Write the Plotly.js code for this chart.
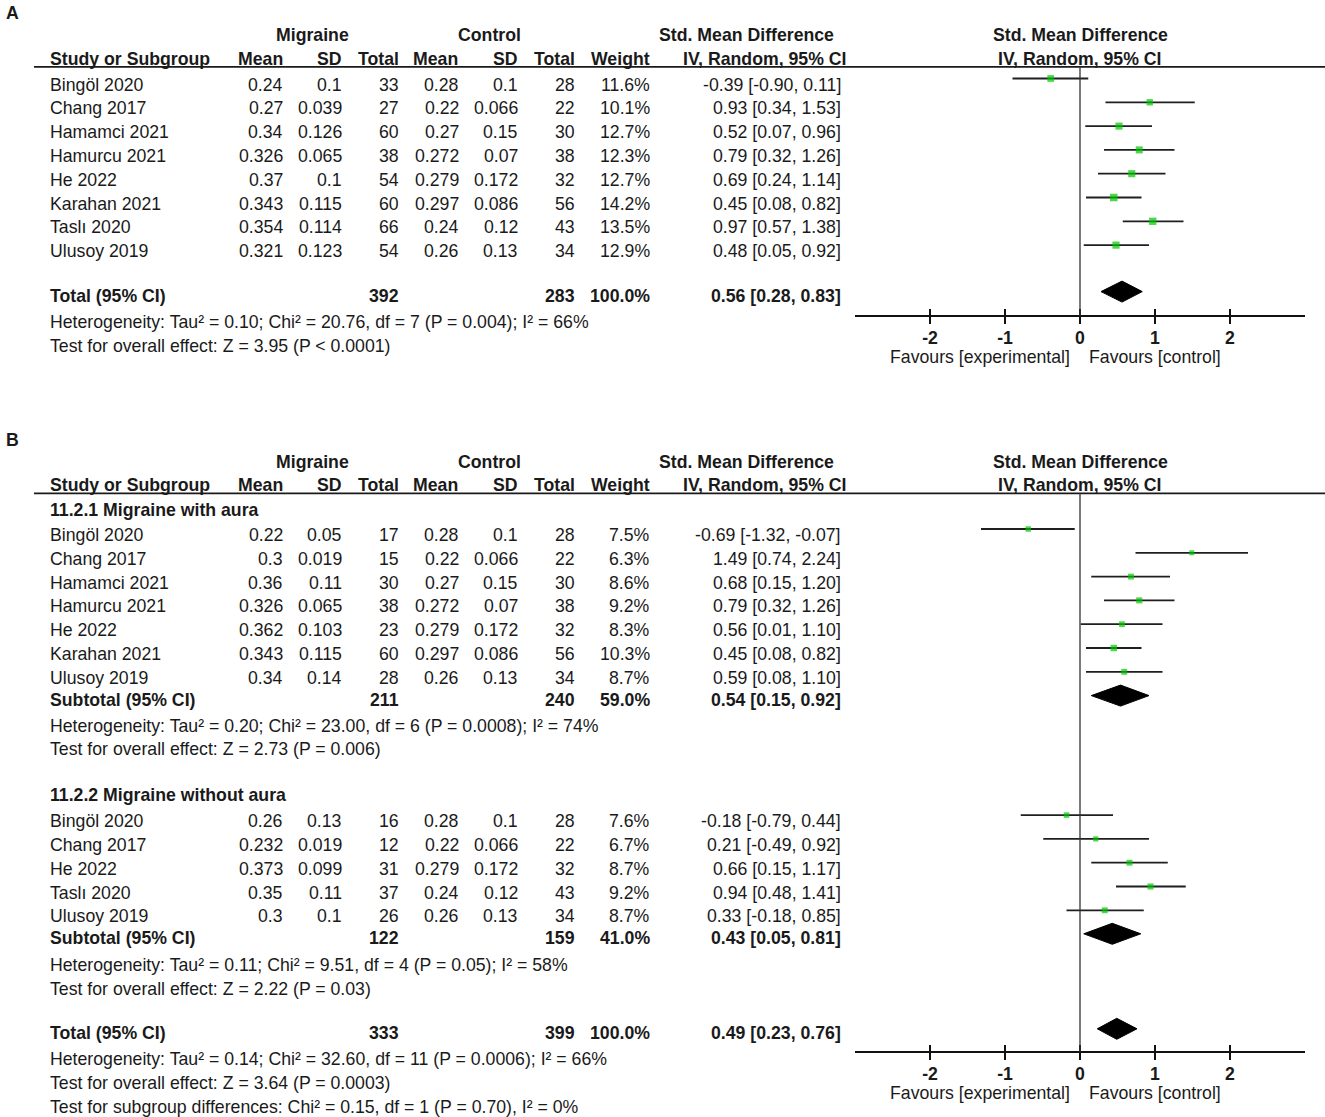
<!DOCTYPE html>
<html><head><meta charset="utf-8">
<script src="https://cdn.plot.ly/plotly-3.0.1.min.js"></script>
<style>html,body{margin:0;padding:0;background:#fff}</style>
</head><body><div id="chart" style="width:1325px;height:1117px"></div>
<script>
// ================= DATA =================
// Panel A
const studiesA  = ['Bingöl 2020','Chang 2017','Hamamci 2021','Hamurcu 2021','He 2022','Karahan 2021','Taslı 2020','Ulusoy 2019'];
const expMeanA  = [0.24, 0.27, 0.34, 0.326, 0.37, 0.343, 0.354, 0.321];
const expSdA    = [0.1, 0.039, 0.126, 0.065, 0.1, 0.115, 0.114, 0.123];
const expNA     = [33, 27, 60, 38, 54, 60, 66, 54];
const ctlMeanA  = [0.28, 0.22, 0.27, 0.272, 0.279, 0.297, 0.24, 0.26];
const ctlSdA    = [0.1, 0.066, 0.15, 0.07, 0.172, 0.086, 0.12, 0.13];
const ctlNA     = [28, 22, 30, 38, 32, 56, 43, 34];
const weightA   = [11.6, 10.1, 12.7, 12.3, 12.7, 14.2, 13.5, 12.9];
const smdA      = [-0.39, 0.93, 0.52, 0.79, 0.69, 0.45, 0.97, 0.48];
const loA       = [-0.90, 0.34, 0.07, 0.32, 0.24, 0.08, 0.57, 0.05];
const hiA       = [0.11, 1.53, 0.96, 1.26, 1.14, 0.82, 1.38, 0.92];
const totalNA   = [392, 283];          // experimental, control
const totalWA   = 100.0;
const totalCIA  = [0.56, 0.28, 0.83];  // est, lo, hi
const hetA      = 'Heterogeneity: Tau² = 0.10; Chi² = 20.76, df = 7 (P = 0.004); I² = 66%';
const testA     = 'Test for overall effect: Z = 3.95 (P < 0.0001)';

// Panel B, subgroup 1 (with aura)
const titleB1   = '11.2.1 Migraine with aura';
const studiesB1 = ['Bingöl 2020','Chang 2017','Hamamci 2021','Hamurcu 2021','He 2022','Karahan 2021','Ulusoy 2019'];
const expMeanB1 = [0.22, 0.3, 0.36, 0.326, 0.362, 0.343, 0.34];
const expSdB1   = [0.05, 0.019, 0.11, 0.065, 0.103, 0.115, 0.14];
const expNB1    = [17, 15, 30, 38, 23, 60, 28];
const ctlMeanB1 = [0.28, 0.22, 0.27, 0.272, 0.279, 0.297, 0.26];
const ctlSdB1   = [0.1, 0.066, 0.15, 0.07, 0.172, 0.086, 0.13];
const ctlNB1    = [28, 22, 30, 38, 32, 56, 34];
const weightB1  = [7.5, 6.3, 8.6, 9.2, 8.3, 10.3, 8.7];
const smdB1     = [-0.69, 1.49, 0.68, 0.79, 0.56, 0.45, 0.59];
const loB1      = [-1.32, 0.74, 0.15, 0.32, 0.01, 0.08, 0.08];
const hiB1      = [-0.07, 2.24, 1.20, 1.26, 1.10, 0.82, 1.10];
const subNB1    = [211, 240];
const subWB1    = 59.0;
const subCIB1   = [0.54, 0.15, 0.92];
const hetB1     = 'Heterogeneity: Tau² = 0.20; Chi² = 23.00, df = 6 (P = 0.0008); I² = 74%';
const testB1    = 'Test for overall effect: Z = 2.73 (P = 0.006)';

// Panel B, subgroup 2 (without aura)
const titleB2   = '11.2.2 Migraine without aura';
const studiesB2 = ['Bingöl 2020','Chang 2017','He 2022','Taslı 2020','Ulusoy 2019'];
const expMeanB2 = [0.26, 0.232, 0.373, 0.35, 0.3];
const expSdB2   = [0.13, 0.019, 0.099, 0.11, 0.1];
const expNB2    = [16, 12, 31, 37, 26];
const ctlMeanB2 = [0.28, 0.22, 0.279, 0.24, 0.26];
const ctlSdB2   = [0.1, 0.066, 0.172, 0.12, 0.13];
const ctlNB2    = [28, 22, 32, 43, 34];
const weightB2  = [7.6, 6.7, 8.7, 9.2, 8.7];
const smdB2     = [-0.18, 0.21, 0.66, 0.94, 0.33];
const loB2      = [-0.79, -0.49, 0.15, 0.48, -0.18];
const hiB2      = [0.44, 0.92, 1.17, 1.41, 0.85];
const subNB2    = [122, 159];
const subWB2    = 41.0;
const subCIB2   = [0.43, 0.05, 0.81];
const hetB2     = 'Heterogeneity: Tau² = 0.11; Chi² = 9.51, df = 4 (P = 0.05); I² = 58%';
const testB2    = 'Test for overall effect: Z = 2.22 (P = 0.03)';

// Panel B overall
const totalNB   = [333, 399];
const totalWB   = 100.0;
const totalCIB  = [0.49, 0.23, 0.76];
const hetB      = 'Heterogeneity: Tau² = 0.14; Chi² = 32.60, df = 11 (P = 0.0006); I² = 66%';
const testB     = 'Test for overall effect: Z = 3.64 (P = 0.0003)';
const subDiffB  = 'Test for subgroup differences: Chi² = 0.15, df = 1 (P = 0.70), I² = 0%';

// Headers & axis labels
const groupHeaders = ['Migraine', 'Control', 'Std. Mean Difference'];
const colHeaders   = ['Mean', 'SD', 'Total', 'Mean', 'SD', 'Total', 'Weight', 'IV, Random, 95% CI'];
const firstHeader  = 'Study or Subgroup';
const plotHeader   = ['Std. Mean Difference', 'IV, Random, 95% CI'];
const tickVals     = [-2, -1, 0, 1, 2];
const tickText     = ['-2', '-1', '0', '1', '2'];
const favours      = ['Favours [experimental]', 'Favours [control]'];
const panelLetters = ['A', 'B'];

// ================= LAYOUT CONSTANTS =================
const W = 1325, H = 1117;
const FONT = 'Liberation Sans, Arial, Helvetica, sans-serif';
const FS = 17.7;
const TXT = '#1a1a1a';
const NAME_X = 49;
const COL_R = [284, 343.5, 399.5, 459.5, 519, 575.5, 650.5, 842];
const HDR_R = [283.5, 343.5, 399.5, 459, 519, 575.5, 650.5, 848.5];
const GROUP_C = [312, 489, 746];
const PITCH = 23.8;
const MARK_DY = -6;      // forest marks sit a bit above text centre
const DIAM_DY = -4.5;
const DIAM_H = 10.5;
const XDOM = [855 / W, 1305 / W];
const XRANGE = [-3, 3];

const annotations = [];
const shapes = [];
const traces = [];

function ann(x, y, text, anchor, bold, xref) {
  annotations.push({
    x: xref ? x : x / W, xref: xref || 'paper', y: y, yref: 'y',
    text: bold ? '<b>' + text + '</b>' : text,
    xanchor: anchor, yanchor: 'middle', showarrow: false, borderpad: 0,
    font: { family: FONT, size: FS, color: TXT }
  });
}
const f2 = v => v.toFixed(2);
const ciText = (e, l, h) => f2(e) + ' [' + f2(l) + ', ' + f2(h) + ']';

function header(yTop, letter) {
  ann(5, yTop - 22, letter, 'left', true);
  GROUP_C.forEach((c, i) => ann(c, yTop, groupHeaders[i], 'center', true));
  ann(0, yTop, plotHeader[0], 'center', true, 'x');
  const y2 = yTop + 23.8;
  ann(NAME_X, y2, firstHeader, 'left', true);
  colHeaders.forEach((t, i) => ann(HDR_R[i], y2, t, 'right', true));
  ann(0, y2, plotHeader[1], 'center', true, 'x');
  shapes.push({ type: 'line', xref: 'paper', x0: 34 / W, x1: 1, yref: 'y', y0: y2 + 8, y1: y2 + 8,
                line: { color: '#1a1a1a', width: 1.7 } });
  return y2 + 8;
}

function studyRows(y0, names, em, es, en, cm, cs, cn, w, smd, lo, hi, xa) {
  const ys = names.map((_, i) => y0 + i * PITCH);
  names.forEach((n, i) => {
    const y = ys[i];
    ann(NAME_X, y, n, 'left', false);
    const vals = [String(em[i]), String(es[i]), String(en[i]), String(cm[i]), String(cs[i]), String(cn[i]),
                  w[i].toFixed(1) + '%', ciText(smd[i], lo[i], hi[i])];
    vals.forEach((v, k) => ann(COL_R[k], y, v, 'right', false));
  });
  traces.push({
    type: 'scatter', mode: 'markers', xaxis: xa, yaxis: 'y',
    x: smd, y: ys.map(y => y + MARK_DY),
    marker: { symbol: 'square', color: '#00c800', size: w.map(v => 2.0 * Math.sqrt(v)), line: { width: 0 } },
    error_x: { type: 'data', symmetric: false, array: hi.map((h, i) => h - smd[i]),
               arrayminus: lo.map((l, i) => smd[i] - l), width: 0, thickness: 1.8, color: '#1f1f1f' },
    hoverinfo: 'skip', showlegend: false, cliponaxis: false
  });
  return ys[ys.length - 1];
}

function summaryRow(y, label, ns, wt, ci, xa) {
  ann(NAME_X, y, label, 'left', true);
  ann(COL_R[2], y, String(ns[0]), 'right', true);
  ann(COL_R[5], y, String(ns[1]), 'right', true);
  ann(COL_R[6], y, wt.toFixed(1) + '%', 'right', true);
  ann(COL_R[7], y, ciText(ci[0], ci[1], ci[2]), 'right', true);
  const yc = y + DIAM_DY;
  traces.push({
    type: 'scatter', mode: 'lines', xaxis: xa, yaxis: 'y', fill: 'toself',
    x: [ci[1], ci[0], ci[2], ci[0], ci[1]],
    y: [yc, yc - DIAM_H, yc, yc + DIAM_H, yc],
    fillcolor: '#000', line: { color: '#000', width: 1 },
    hoverinfo: 'skip', showlegend: false
  });
}

function zeroLine(xa, yTop, yBot) {
  shapes.push({ type: 'line', xref: xa, x0: 0, x1: 0, yref: 'y', y0: yTop, y1: yBot,
                line: { color: '#333', width: 1.3 } });
}
function favoursLabels(xa, y) {
  ann(-0.12, y, favours[0], 'right', false, xa);
  ann(0.1, y, favours[1], 'left', false, xa);
}

// ---------- Panel A ----------
const lineA = header(35, panelLetters[0]);
const lastA = studyRows(84.5, studiesA, expMeanA, expSdA, expNA, ctlMeanA, ctlSdA, ctlNA, weightA, smdA, loA, hiA, 'x');
const totYA = lastA + 45;
summaryRow(totYA, 'Total (95% CI)', totalNA, totalWA, totalCIA, 'x');
ann(NAME_X, totYA + 26.2, hetA, 'left', false);
ann(NAME_X, totYA + 50.2, testA, 'left', false);
const axisYA = 316;
zeroLine('x', lineA, axisYA);
favoursLabels('x', 357);

// ---------- Panel B ----------
const lineB = header(461.5, panelLetters[1]);
ann(NAME_X, 510, titleB1, 'left', true);
const lastB1 = studyRows(535, studiesB1, expMeanB1, expSdB1, expNB1, ctlMeanB1, ctlSdB1, ctlNB1, weightB1, smdB1, loB1, hiB1, 'x2');
const subY1 = lastB1 + 22.3;
summaryRow(subY1, 'Subtotal (95% CI)', subNB1, subWB1, subCIB1, 'x2');
ann(NAME_X, subY1 + 25.7, hetB1, 'left', false);
ann(NAME_X, subY1 + 49.3, testB1, 'left', false);

const titleY2 = subY1 + 95;
ann(NAME_X, titleY2, titleB2, 'left', true);
const lastB2 = studyRows(titleY2 + 26, studiesB2, expMeanB2, expSdB2, expNB2, ctlMeanB2, ctlSdB2, ctlNB2, weightB2, smdB2, loB2, hiB2, 'x2');
const subY2 = lastB2 + 22;
summaryRow(subY2, 'Subtotal (95% CI)', subNB2, subWB2, subCIB2, 'x2');
ann(NAME_X, subY2 + 26.5, hetB2, 'left', false);
ann(NAME_X, subY2 + 50.3, testB2, 'left', false);

const totYB = subY2 + 95;
summaryRow(totYB, 'Total (95% CI)', totalNB, totalWB, totalCIB, 'x2');
ann(NAME_X, totYB + 25.5, hetB, 'left', false);
ann(NAME_X, totYB + 49.5, testB, 'left', false);
ann(NAME_X, totYB + 73.5, subDiffB, 'left', false);
const axisYB = 1052;
zeroLine('x2', lineB, axisYB);
favoursLabels('x2', 1093);

// dummy empty traces so that tick-only overlay axes are drawn
traces.push({ type: 'scatter', x: [], y: [], xaxis: 'x3', yaxis: 'y', showlegend: false, hoverinfo: 'skip' });
traces.push({ type: 'scatter', x: [], y: [], xaxis: 'x4', yaxis: 'y', showlegend: false, hoverinfo: 'skip' });

function mainAxis(axisY, overlay) {
  const a = {
    domain: XDOM, range: XRANGE, anchor: 'free', position: 1 - axisY / H,
    showline: true, linecolor: '#111', linewidth: 2,
    ticks: 'inside', ticklen: 6, tickwidth: 2, tickcolor: '#111',
    tickvals: tickVals, ticktext: tickText, ticklabelstandoff: 6,
    tickfont: { family: FONT, size: FS, color: TXT, weight: 'bold' },
    showgrid: false, zeroline: false, fixedrange: true
  };
  if (overlay) a.overlaying = overlay;
  return a;
}
function tickAxis(axisY) {
  return {
    domain: XDOM, range: XRANGE, anchor: 'free', position: 1 - axisY / H, overlaying: 'x',
    showline: false, ticks: 'outside', ticklen: 7, tickwidth: 2, tickcolor: '#111',
    tickvals: tickVals, showticklabels: false, showgrid: false, zeroline: false, fixedrange: true
  };
}

const layout = {
  width: W, height: H, margin: { l: 0, r: 0, t: 0, b: 0, pad: 0 },
  paper_bgcolor: '#fff', plot_bgcolor: 'rgba(0,0,0,0)', showlegend: false,
  font: { family: FONT, size: FS, color: TXT },
  xaxis: mainAxis(axisYA),
  xaxis2: mainAxis(axisYB, 'x'),
  xaxis3: tickAxis(axisYA),
  xaxis4: tickAxis(axisYB),
  yaxis: { domain: [0, 1], range: [H, 0], visible: false, fixedrange: true },
  annotations: annotations, shapes: shapes
};

Plotly.newPlot('chart', traces, layout, { staticPlot: true, displayModeBar: false });
</script></body></html>
